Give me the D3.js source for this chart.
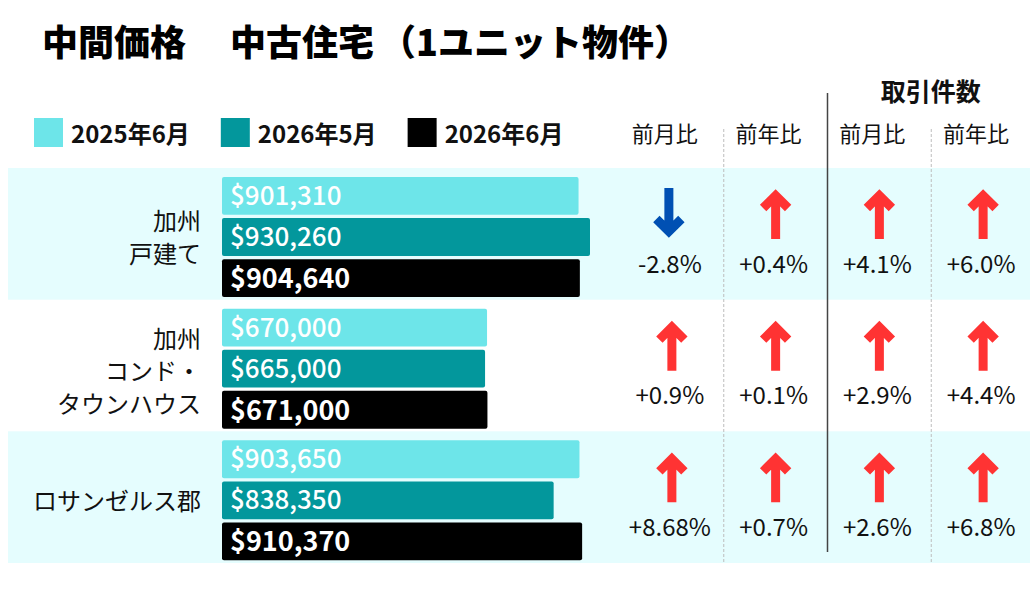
<!DOCTYPE html>
<html>
<head>
<meta charset="utf-8">
<script src="https://cdn.jsdelivr.net/npm/d3@7"></script>
<style>
  html, body { margin: 0; padding: 0; background: #fff; }
  svg { display: block; font-family: "Noto Sans CJK JP", "Noto Sans", sans-serif; }
</style>
</head>
<body>
<div id="chart"></div>
<script>
// chart data
var titleParts = ['中間価格　', '中古住宅', '（1ユニット物件）'];
var categories = ['加州\n戸建て', '加州\nコンド・\nタウンハウス', 'ロサンゼルス郡'];
var seriesNames = ['2025年6月', '2026年5月', '2026年6月'];
var price2025Jun = [901310, 670000, 903650];
var price2026May = [930260, 665000, 838350];
var price2026Jun = [904640, 671000, 910370];
var changeHeaders = ['前月比', '前年比', '前月比', '前年比'];
var salesGroupTitle = '取引件数';
var priceMoM = ['-2.8%', '+0.9%', '+8.68%'];
var priceYoY = ['+0.4%', '+0.1%', '+0.7%'];
var salesMoM = ['+4.1%', '+2.9%', '+2.6%'];
var salesYoY = ['+6.0%', '+4.4%', '+6.8%'];

(function(){
  var W = 1030, H = 590;
  var seriesColors = ['#6de5e9', '#03979c', '#000000'];
  var bandColor = '#e5fdfe';
  var upColor = '#ff3333', downColor = '#0050b3';

  var series = [price2025Jun, price2026May, price2026Jun];
  var changes = [priceMoM, priceYoY, salesMoM, salesYoY];

  var svg = d3.select('#chart').append('svg').attr('width', W).attr('height', H);
  svg.append('rect').attr('width', W).attr('height', H).attr('fill', '#fff');

  // title (gaps widened a little to match the original spacing)
  var title = svg.append('text')
    .attr('x', 42).attr('y', 56)
    .attr('font-size', 36).attr('font-weight', 900).attr('fill', '#000');
  var titleGaps = [0, 8, 6];
  titleParts.forEach(function(p, i){
    title.append('tspan').attr('dx', titleGaps[i]).text(p);
  });

  // legend
  var lx = 34;
  seriesNames.forEach(function(name, i){
    svg.append('rect').attr('x', lx).attr('y', 118).attr('width', 29).attr('height', 29)
      .attr('fill', seriesColors[i]);
    var t = svg.append('text').attr('x', lx + 37).attr('y', 143)
      .attr('font-size', 24).attr('font-weight', 700).attr('fill', '#111').text(name);
    lx += 37 + t.node().getComputedTextLength() + 31;
  });

  // scales
  var y = d3.scaleBand().domain(d3.range(categories.length)).range([168, 563]);
  var yInner = d3.scaleBand().domain(d3.range(series.length)).range([9, 129]).paddingInner(0.08);
  var maxVal = d3.max(series, function(s){ return d3.max(s); });
  var x = d3.scaleLinear().domain([0, maxVal]).range([222, 590]);
  var col = d3.scaleBand().domain(d3.range(changeHeaders.length)).range([620, 1035]);

  // row bands (alternate rows)
  svg.append('g').selectAll('rect')
    .data(categories.map(function(c, i){ return i; }).filter(function(i){ return i % 2 === 0; }))
    .enter().append('rect')
    .attr('x', 8).attr('width', W - 8)
    .attr('y', function(i){ return y(i); })
    .attr('height', y.bandwidth())
    .attr('fill', bandColor);

  // category labels
  categories.forEach(function(c, i){
    var lines = c.split('\n');
    var cy = y(i) + y.bandwidth() / 2 + (lines.length > 2 ? 6 : 4);
    var lh = 32.5;
    var t = svg.append('text').attr('text-anchor', 'end').attr('font-size', 24).attr('fill', '#111');
    lines.forEach(function(l, k){
      t.append('tspan').attr('x', 201)
        .attr('y', cy + (k - (lines.length - 1) / 2) * lh + 8.5)
        .text(l);
    });
  });

  // bars
  var rows = svg.append('g').selectAll('g').data(categories).enter().append('g')
    .attr('transform', function(d, i){ return 'translate(0,' + y(i) + ')'; });
  rows.each(function(d, i){
    var g = d3.select(this);
    series.forEach(function(s, k){
      g.append('rect')
        .attr('x', x(0)).attr('y', yInner(k))
        .attr('width', x(s[i]) - x(0)).attr('height', yInner.bandwidth())
        .attr('rx', 2)
        .attr('fill', seriesColors[k]);
      var last = k === series.length - 1;
      g.append('text')
        .attr('x', x(0) + 8)
        .attr('y', yInner(k) + yInner.bandwidth() / 2 + (last ? 10 : 9))
        .attr('font-size', last ? 27 : 26)
        .attr('font-weight', last ? 700 : 500)
        .attr('fill', '#fff')
        .text('$' + d3.format(',')(s[i]));
    });
  });

  // column separators
  var sep = svg.append('g');
  [1, 3].forEach(function(k){
    sep.append('line')
      .attr('x1', col(k)).attr('x2', col(k))
      .attr('y1', 129).attr('y2', 563)
      .attr('stroke', '#bdbdbd').attr('stroke-width', 1).attr('stroke-dasharray', '3,2');
  });
  sep.append('line')
    .attr('x1', col(2)).attr('x2', col(2))
    .attr('y1', 93).attr('y2', 552)
    .attr('stroke', '#444').attr('stroke-width', 1.5);

  // headers
  svg.append('text')
    .attr('x', (col(2) + W) / 2 + 2).attr('y', 101)
    .attr('text-anchor', 'middle').attr('font-size', 25).attr('font-weight', 700).attr('fill', '#111')
    .text(salesGroupTitle);
  changeHeaders.forEach(function(h, k){
    svg.append('text')
      .attr('x', col(k) + col.bandwidth() / 2 - 7).attr('y', 142)
      .attr('text-anchor', 'middle').attr('font-size', 22).attr('fill', '#111')
      .text(h);
  });

  // arrows + percentages
  var arrowUp = 'M-12.5,20 L0,7.5 L12.5,20 M0,9 L0,51';
  changes.forEach(function(vals, k){
    var cx = col(k) + col.bandwidth() / 2;
    vals.forEach(function(v, i){
      var up = v.charAt(0) !== '-';
      var top = y(i) + 20;
      var g = svg.append('g');
      if (up) {
        g.attr('transform', 'translate(' + cx + ',' + top + ')');
      } else {
        g.attr('transform', 'translate(' + (cx - 3) + ',' + (top + 51) + ') scale(1,-1)');
      }
      g.append('path').attr('d', arrowUp)
        .attr('fill', 'none')
        .attr('stroke', up ? upColor : downColor)
        .attr('stroke-width', 9)
        .attr('stroke-linejoin', 'miter')
        .attr('stroke-linecap', 'butt');
      svg.append('text')
        .attr('x', cx - 2).attr('y', y(i) + 96 + 8.5)
        .attr('text-anchor', 'middle').attr('font-size', 24).attr('fill', '#111')
        .text(v);
    });
  });
})();
</script>
</body>
</html>
